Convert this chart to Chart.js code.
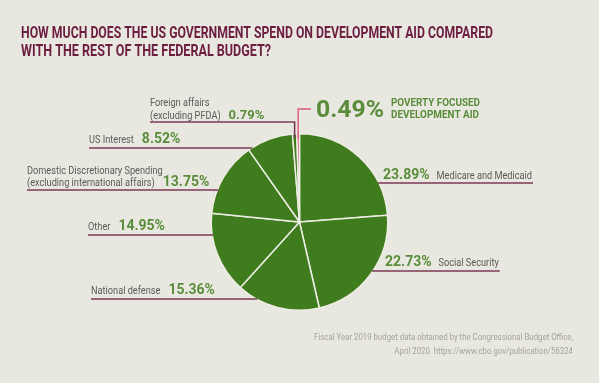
<!DOCTYPE html>
<html>
<head>
<meta charset="utf-8">
<script src="https://cdn.jsdelivr.net/npm/chart.js@4.4.1/dist/chart.umd.min.js"></script>
<style>
  html, body { margin: 0; padding: 0; background: #e9e8e0; }
  #chart { display: block; }
</style>
</head>
<body>
<canvas id="chart" width="599" height="383"></canvas>
<script>
// data (clockwise from 12 o'clock)
const categories = [
    'Medicare and Medicaid',
    'Social Security',
    'National defense',
    'Other',
    'Domestic Discretionary Spending (excluding international affairs)',
    'US Interest',
    'Foreign affairs (excluding PFDA)',
    'Poverty focused development aid'
];
const shares = [23.89, 22.73, 15.36, 14.95, 13.75, 8.52, 0.79, 0.49];
const labelLines = [
    ['Medicare and Medicaid'],
    ['Social Security'],
    ['National defense'],
    ['Other'],
    ['Domestic Discretionary Spending', '(excluding international affairs)'],
    ['US Interest'],
    ['Foreign affairs', '(excluding PFDA)'],
    ['POVERTY FOCUSED', 'DEVELOPMENT AID']
];
const titleLines = [
    'HOW MUCH DOES THE US GOVERNMENT SPEND ON DEVELOPMENT AID COMPARED',
    'WITH THE REST OF THE FEDERAL BUDGET?'
];
const sourceLines = [
    'Fiscal Year 2019 budget data obtained by the Congressional Budget Office,',
    'April 2020  https://www.cbo.gov/publication/56324'
];

const GREEN = '#3e7c1d';
const PINK = '#d9587c';
const PCT = '#5a8d3b';
const GREY = '#5a5a58';
const MAROON = '#7b3a54';
const FONT = "Roboto, 'Liberation Sans', sans-serif";

// where each label sits (layout only)
const layout = [
    {side: 'right', x: 383, lineY: 183, base: [179]},
    {side: 'right', x: 385, lineY: 271, base: [266]},
    {side: 'left', x: 91, lineY: 299, base: [294]},
    {side: 'left', x: 88, lineY: 235, base: [230]},
    {side: 'left', x: 27, lineY: 190, base: [174, 186]},
    {side: 'left', x: 89, lineY: 148, base: [143]},
    {side: 'top', x: 150, lineY: 122, base: [106, 119]},
    {side: 'hero', x: 316, lineY: 109, base: [106, 118]}
];

function txt(ctx, s, x, y, font, color, sx, align) {
    ctx.save();
    ctx.font = font;
    ctx.fillStyle = color;
    ctx.textBaseline = 'alphabetic';
    let w = ctx.measureText(s).width * sx;
    if (align === 'right') x -= w;
    ctx.translate(x, y);
    ctx.scale(sx, 1);
    ctx.fillText(s, 0, 0);
    ctx.restore();
    return w;
}

function fitTxt(ctx, s, x, y, font, color, width) {
    ctx.save();
    ctx.font = font;
    let sx = width / ctx.measureText(s).width;
    ctx.restore();
    return txt(ctx, s, x, y, font, color, sx);
}

function line(ctx, pts, color, w) {
    ctx.save();
    ctx.strokeStyle = color;
    ctx.lineWidth = w;
    ctx.beginPath();
    ctx.moveTo(pts[0][0], pts[0][1]);
    for (let i = 1; i < pts.length; i++) ctx.lineTo(pts[i][0], pts[i][1]);
    ctx.stroke();
    ctx.restore();
}

const decorations = {
    id: 'decorations',
    beforeDraw: (chart) => {
        let ctx = chart.ctx;
        ctx.save();
        ctx.fillStyle = '#e9e8e0';
        ctx.fillRect(0, 0, chart.width, chart.height);
        ctx.restore();
    },
    afterDraw: (chart) => {
        let ctx = chart.ctx;
        let arcs = chart.getDatasetMeta(0).data;
        let cx = arcs[0].x, cy = arcs[0].y, r = arcs[0].outerRadius;
        let edgeX = (y, dir) => cx + dir * Math.sqrt(Math.max(r * r - (y - cy) * (y - cy), 0));
        let midX = (a) => cx + r * Math.cos((a.startAngle + a.endAngle) / 2);
        let topY = (x) => cy - Math.sqrt(Math.max(r * r - (x - cx) * (x - cx), 0));

        // title
        fitTxt(ctx, titleLines[0], 21, 38, 'bold 16px ' + FONT, '#6c1d40', 472);
        fitTxt(ctx, titleLines[1], 21, 56, 'bold 16px ' + FONT, '#6c1d40', 250);

        // source
        txt(ctx, sourceLines[0], 573, 340, '9px ' + FONT, '#a4a39c', 0.87, 'right');
        txt(ctx, sourceLines[1], 573, 354, '9px ' + FONT, '#a4a39c', 0.87, 'right');

        let labelFont = '10px ' + FONT;
        let pctFont = 'bold 14px ' + FONT;
        let sx = 0.92;

        layout.forEach((L, i) => {
            let pct = shares[i].toFixed(2) + '%';
            let names = labelLines[i];
            if (L.side === 'left') {
                let w = 0;
                names.forEach((n, k) => { w = txt(ctx, n, L.x, L.base[k], labelFont, GREY, sx); });
                txt(ctx, pct, L.x + w + 8, L.base[L.base.length - 1], pctFont, PCT, 1);
                line(ctx, [[L.x, L.lineY], [edgeX(L.lineY, -1) + 1, L.lineY]], MAROON, 1.6);
            } else if (L.side === 'right') {
                let pw = txt(ctx, pct, L.x, L.base[0], pctFont, PCT, 1);
                let nw = txt(ctx, names[0], L.x + pw + 7, L.base[0], labelFont, GREY, sx);
                line(ctx, [[edgeX(L.lineY, 1) - 1, L.lineY], [L.x + pw + 7 + nw + 1, L.lineY]], MAROON, 1.6);
            } else if (L.side === 'top') {
                let w = 0;
                names.forEach((n, k) => { w = txt(ctx, n, L.x, L.base[k], labelFont, GREY, sx); });
                txt(ctx, pct, L.x + w + 8, L.base[1], 'bold 13px ' + FONT, PCT, 1);
                let vx = midX(arcs[i]);
                line(ctx, [[L.x, L.lineY], [vx, L.lineY], [vx, topY(vx) + 4]], MAROON, 1.6);
            } else {
                let vx = midX(arcs[i]);
                line(ctx, [[vx, topY(vx) + 4], [vx, L.lineY], [L.x - 5, L.lineY]], PINK, 1.4);
                let pw = fitTxt(ctx, pct, L.x, 117, 'bold 24px ' + FONT, PCT, 68);
                fitTxt(ctx, names[0], L.x + pw + 7, L.base[0], 'bold 11px ' + FONT, PCT, 89);
                fitTxt(ctx, names[1], L.x + pw + 7, L.base[1], 'bold 11px ' + FONT, PCT, 88);
            }
        });
    }
};

new Chart(document.getElementById('chart').getContext('2d'), {
    type: 'pie',
    data: {
        labels: categories,
        datasets: [{
            data: shares,
            backgroundColor: shares.map((v, i) => i === shares.length - 1 ? PINK : GREEN),
            borderColor: '#eeede4',
            borderWidth: 1.5
        }]
    },
    options: {
        responsive: false,
        animation: false,
        layout: {padding: {top: 133, bottom: 72, left: 150, right: 150}},
        plugins: {
            legend: {display: false},
            tooltip: {enabled: false}
        }
    },
    plugins: [decorations]
});
</script>
</body>
</html>
